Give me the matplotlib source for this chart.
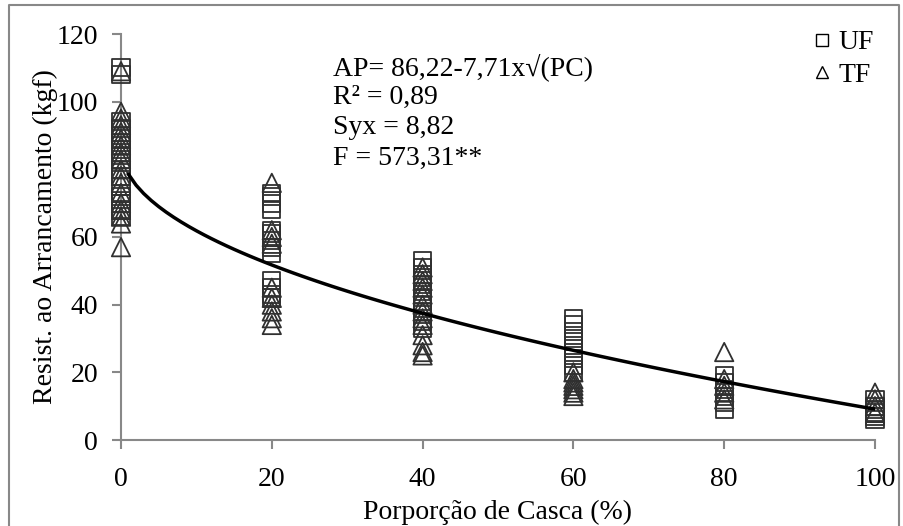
import matplotlib.pyplot as plt
from matplotlib.lines import Line2D
import numpy as np

plt.rcParams['font.family'] = ['Liberation Serif', 'DejaVu Serif']

# UF (squares) and TF (triangles)
uf_x = [0]*16 + [20]*13 + [40]*11 + [60]*9 + [80]*6 + [100]*6
uf_y = [110, 108, 94, 92, 90, 88, 86, 84, 82, 80, 78, 75, 72, 70, 68, 66,
        73, 72, 70, 68, 62, 61, 59, 57, 55, 47, 45, 43, 42,
        53, 51, 49, 47, 45, 43, 41, 39, 37, 35, 33,
        36, 34, 32, 30, 28, 26, 24, 22, 20,
        19, 17, 15, 13, 11, 9,
        12, 10, 9, 8, 7, 6]
tf_x = [0]*18 + [20]*10 + [40]*13 + [60]*7 + [80]*5 + [100]*4
tf_y = [109, 97, 95, 93, 91, 89, 87, 85, 83, 80, 78, 76, 73, 70, 68, 66, 64, 57,
        76, 62, 60, 58, 45, 42, 40, 38, 36, 34,
        51, 49, 47, 45, 43, 40, 38, 36, 34, 31, 28, 26, 25,
        20, 18, 17, 16, 15, 14, 13,
        26, 18, 16, 14, 12,
        14, 12, 10, 8]

# fitted model shown on the chart: AP = 86,22 - 7,71*sqrt(PC)
b0, b1 = 86.22, 7.71
pc = np.arange(1, 101)
ap = b0 - b1*np.sqrt(pc)

W, H = 904, 526
fig = plt.figure(figsize=(W/100, H/100), dpi=100)
ax = fig.add_axes([121/W, 1-440/H, (875-121)/W, (440-34)/H])

mc = '#303030'
ax.scatter(uf_x, uf_y, marker='s', s=150, facecolors='none', edgecolors=mc,
           linewidths=1.3, clip_on=False, zorder=3)
ax.scatter(tf_x, tf_y, marker='^', s=175, facecolors='none', edgecolors=mc,
           linewidths=1.3, clip_on=False, zorder=3)
ax.plot(pc, ap, color='black', linewidth=2.5, zorder=4)

ax.set_xlim(0, 100)
ax.set_ylim(0, 120)
ax.set_xticks(np.arange(0, 101, 20))
ax.set_yticks(np.arange(0, 121, 20))
for s in ['top', 'right']:
    ax.spines[s].set_visible(False)
for s in ['left', 'bottom']:
    ax.spines[s].set_color('#888888')
    ax.spines[s].set_linewidth(1.5)
ax.tick_params(axis='both', direction='out', length=6.5, width=1.5,
               color='#888888', labelsize=20)
ax.tick_params(axis='x', pad=13)
ax.tick_params(axis='y', pad=10)

fig.text(45/W, 1-237/H, 'Resist. ao Arrancamento (kgf)', rotation=90,
         ha='center', va='center', fontsize=20)
fig.text(498/W, 1-512/H, 'Porporção de Casca (%)', ha='center', va='center',
         fontsize=20)

lines = ['AP= 86,22-7,71x√(PC)', 'R² = 0,89', 'Syx = 8,82', 'F = 573,31**']
for i, t in enumerate(lines):
    fig.text(333/W, 1-(67+30.5*i)/H, t, ha='left', va='center', fontsize=20)

handles = [Line2D([], [], marker='s', ls='none', mfc='none', mec='black',
                  ms=9, mew=1.0, label='UF'),
           Line2D([], [], marker='^', ls='none', mfc='none', mec='black',
                  ms=9, mew=1.0, label='TF')]
fig.legend(handles=handles, loc='upper right', bbox_to_anchor=(888/W, 1-16/H),
           frameon=False, fontsize=20, handlelength=0.8, handletextpad=0.2,
           labelspacing=0.25, borderpad=0)

# outer chart border
fig.add_artist(plt.Line2D([9/W, 9/W, 899/W, 899/W], [-0.05, 1-5/H, 1-5/H, -0.05],
                          transform=fig.transFigure, color='#888888', lw=1.5))

fig.savefig('out.png', dpi=100)
